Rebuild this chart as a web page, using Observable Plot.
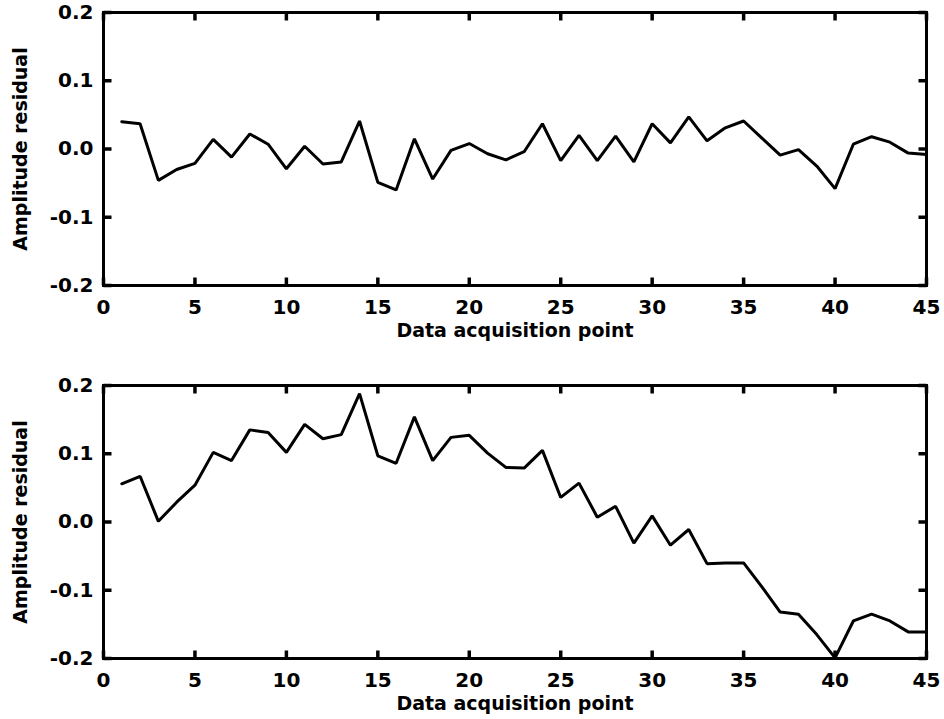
<!DOCTYPE html>
<html>
<head>
<meta charset="utf-8">
<script src="https://cdn.jsdelivr.net/npm/d3@7"></script>
<script src="https://cdn.jsdelivr.net/npm/@observablehq/plot@0.6"></script>
<style>
  html, body { margin: 0; padding: 0; background: #fff; }
  #chart svg { display: block; }
</style>
</head>
<body>
<div id="chart"></div>
<script>
// Data acquisition points
const points = [1,2,3,4,5,6,7,8,9,10,11,12,13,14,15,16,17,18,19,20,21,22,23,24,25,26,27,28,29,30,31,32,33,34,35,36,37,38,39,40,41,42,43,44,45];

// Top panel residuals
const residualTop = [0.040,0.037,-0.046,-0.030,-0.021,0.014,-0.012,0.022,0.007,-0.029,
  0.004,-0.022,-0.019,0.041,-0.049,-0.060,0.015,-0.044,-0.002,0.008,
  -0.007,-0.016,-0.004,0.037,-0.017,0.020,-0.017,0.019,-0.019,0.037,
  0.009,0.047,0.012,0.031,0.041,0.016,-0.009,-0.001,-0.025,-0.058,
  0.007,0.018,0.010,-0.006,-0.008];

// Bottom panel residuals
const residualBottom = [0.056,0.067,0.001,0.029,0.054,0.102,0.090,0.135,0.131,0.102,
  0.143,0.122,0.128,0.188,0.097,0.086,0.154,0.090,0.124,0.127,
  0.101,0.080,0.079,0.105,0.036,0.057,0.007,0.023,-0.031,0.009,
  -0.034,-0.011,-0.061,-0.060,-0.060,-0.095,-0.132,-0.135,-0.165,-0.199,
  -0.145,-0.135,-0.145,-0.161,-0.161];

const xTicks = [0,5,10,15,20,25,30,35,40,45];
const yTicks = [-0.2,-0.1,0.0,0.1,0.2];
const xDomain = [0, 45];
const yDomain = [-0.2, 0.2];
const xLabel = "Data acquisition point";
const yLabel = "Amplitude residual";

function panel(values, height, marginTop, marginBottom) {
  const data = points.map((p, i) => ({x: p, y: values[i]}));
  const W = 944, mL = 103, mR = 18;
  const fw = W - mL - mR, fh = height - marginTop - marginBottom;
  const tl = 8; // inward tick length in pixels
  const [x0, x1] = xDomain, [y0, y1] = yDomain;
  const kx = (x1 - x0) * tl / fw, ky = (y1 - y0) * tl / fh;
  const tickX = xTicks.flatMap(t => [{x: t, a: y0, b: y0 + ky}, {x: t, a: y1 - ky, b: y1}]);
  const tickY = yTicks.flatMap(t => [{y: t, a: x0, b: x0 + kx}, {y: t, a: x1 - kx, b: x1}]);
  return Plot.plot({
    width: W,
    height,
    marginTop,
    marginBottom,
    marginLeft: mL,
    marginRight: mR,
    style: {fontFamily: "'DejaVu Sans', sans-serif", fontWeight: "bold", fontSize: "20px", background: "#fff", color: "#000"},
    x: {domain: xDomain, ticks: xTicks},
    y: {domain: yDomain, ticks: yTicks},
    marks: [
      Plot.frame({stroke: "#000", strokeWidth: 3}),
      Plot.axisX({anchor: "bottom", ticks: xTicks, tickSize: 0, tickPadding: 14, label: null, tickFormat: d => String(d)}),
      Plot.axisY({anchor: "left", ticks: yTicks, tickSize: 0, tickPadding: 10, label: null, tickFormat: d => d.toFixed(1)}),
      Plot.link(tickX, {x1: "x", x2: "x", y1: "a", y2: "b", stroke: "#000", strokeWidth: 3.5}),
      Plot.link(tickY, {y1: "y", y2: "y", x1: "a", x2: "b", stroke: "#000", strokeWidth: 3.5}),
      Plot.line(data, {x: "x", y: "y", stroke: "#000", strokeWidth: 3, strokeLinejoin: "miter"}),
      Plot.text([xLabel], {text: d => d, frameAnchor: "bottom", dy: 51, fontSize: 19, fill: "#000"}),
      Plot.text([yLabel], {text: d => d, frameAnchor: "left", textAnchor: "middle", rotate: -90, dx: -83, fontSize: 19, fill: "#000"})
    ]
  });
}

const chart = document.getElementById("chart");
chart.appendChild(panel(residualTop, 360, 12, 75));
chart.appendChild(panel(residualBottom, 359, 25, 61));
</script>
</body>
</html>
